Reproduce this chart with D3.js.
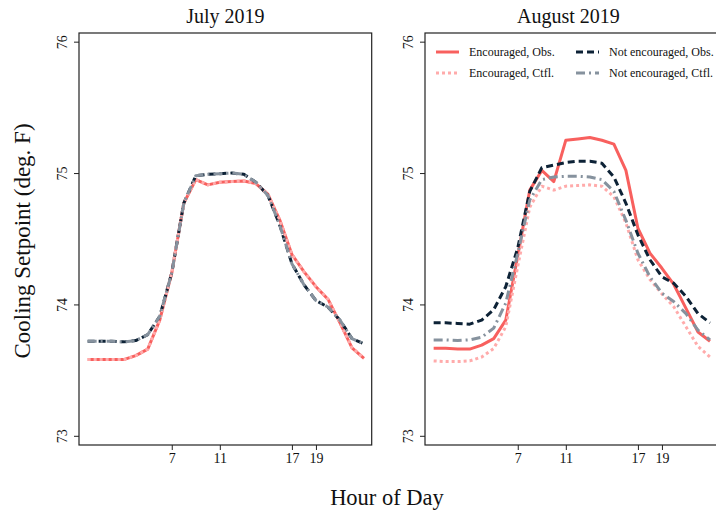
<!DOCTYPE html>
<html><head><meta charset="utf-8">
<script src="https://cdn.jsdelivr.net/npm/d3@7"></script>
<style>body{margin:0;background:#fff}svg{display:block}</style>
</head><body>
<svg id="c" width="716" height="512"></svg>
<script>
const hours = d3.range(0, 24);
const panels = ["July 2019", "August 2019"];
const xTicks = [7, 11, 17, 19];
const yTicks = [73, 74, 75, 76];
const seriesNames = ["Encouraged, Obs.", "Encouraged, Ctfl.", "Not encouraged, Obs.", "Not encouraged, Ctfl."];

const julyEncObs = [73.58,73.58,73.58,73.58,73.61,73.66,73.88,74.24,74.77,74.95,74.91,74.93,74.935,74.94,74.92,74.84,74.64,74.38,74.25,74.135,74.04,73.86,73.67,73.59];
const julyEncCtfl = julyEncObs.slice();
const julyNotObs = [73.72,73.72,73.72,73.715,73.725,73.77,73.91,74.24,74.77,74.98,74.99,74.995,75.0,74.99,74.93,74.83,74.60,74.31,74.15,74.03,73.98,73.88,73.74,73.70];
const julyNotCtfl = julyNotObs.slice();

const augEncObs = [73.666,73.666,73.66,73.66,73.69,73.74,73.88,74.37,74.87,75.02,74.935,75.25,75.26,75.27,75.25,75.22,75.02,74.58,74.39,74.275,74.15,73.97,73.79,73.72];
const augEncCtfl = [73.57,73.565,73.565,73.57,73.60,73.665,73.83,74.29,74.74,74.90,74.87,74.90,74.905,74.91,74.90,74.82,74.62,74.34,74.19,74.08,73.98,73.83,73.68,73.60];
const augNotObs = [73.86,73.86,73.855,73.85,73.88,73.96,74.135,74.43,74.86,75.04,75.06,75.08,75.09,75.09,75.075,74.97,74.77,74.53,74.34,74.21,74.16,74.06,73.93,73.86];
const augNotCtfl = [73.73,73.73,73.725,73.73,73.75,73.82,74.01,74.39,74.795,74.95,74.97,74.975,74.975,74.97,74.95,74.86,74.64,74.39,74.21,74.085,74.02,73.93,73.805,73.73];

// draw order: Enc Obs, Not Obs, Enc Ctfl, Not Ctfl (style index 0,2,1,3)
const panelData = [
  [julyEncObs, julyNotObs, julyEncCtfl, julyNotCtfl],
  [augEncObs, augNotObs, augEncCtfl, augNotCtfl]
];
const order = [0, 2, 1, 3];
const styles = [
  {color:"#f8605e", dash:null, w:3},
  {color:"#ffabab", dash:"3,3", w:3},
  {color:"#0d2236", dash:"7,4", w:3},
  {color:"#86929e", dash:"9,4,2,4", w:3}
];

const svg = d3.select("#c");
const font = "'Liberation Serif', 'DejaVu Serif', serif";
const plotTop = 33, plotBottom = 445;
const lefts = [79, 425];
const pw = 292.7;

const y = d3.scaleLinear().domain([72.93, 76.066]).range([plotBottom, plotTop]);

panels.forEach((title, pi) => {
  const x0 = lefts[pi];
  const x = d3.scaleLinear().domain([-0.72, 23.64]).range([x0, x0 + pw]);
  const g = svg.append("g");

  const line = d3.line().x((d,i) => x(hours[i])).y(d => y(d));
  panelData[pi].forEach((arr, k) => {
    const s = styles[order[k]];
    g.append("path").datum(arr).attr("d", line)
      .attr("fill","none").attr("stroke", s.color).attr("stroke-width", s.w)
      .attr("stroke-dasharray", s.dash).attr("stroke-linejoin","round");
  });

  g.append("rect").attr("x", x0).attr("y", plotTop).attr("width", pw).attr("height", plotBottom - plotTop)
    .attr("fill","none").attr("stroke","#222").attr("stroke-width",1.2);

  const xa = g.append("g").attr("transform", `translate(0,${plotBottom})`)
    .call(d3.axisBottom(x).tickValues(xTicks).tickSize(5).tickPadding(3).tickFormat(d3.format("d")));
  xa.select(".domain").remove();
  xa.selectAll("line").attr("stroke","#222");
  xa.selectAll("text").attr("font-family", font).attr("font-size", 14).attr("fill","#111");

  const ya = g.append("g").attr("transform", `translate(${x0},0)`)
    .call(d3.axisLeft(y).tickValues(yTicks).tickSize(5).tickFormat(d3.format("d")));
  ya.select(".domain").remove();
  ya.selectAll("line").attr("stroke","#222");
  ya.selectAll("text").remove();
  ya.selectAll(".tick").append("text")
    .attr("transform", "translate(-12,0) rotate(-90)")
    .attr("text-anchor","middle").attr("dy", 0)
    .attr("font-family", font).attr("font-size", 14).attr("fill","#111")
    .text(d => d);

  svg.append("text").attr("x", x0 + pw/2 - (pi === 1 ? 3 : 0)).attr("y", 23)
    .attr("text-anchor","middle").attr("font-family", font).attr("font-size", 20)
    .attr("fill","#111").text(title);

  if (pi === 1) {
    const leg = g.append("g");
    const cols = [436, 576];
    const rows = [52, 73];
    const legIdx = [[0, 2], [1, 3]];
    legIdx.forEach((r, ri) => r.forEach((si, ci) => {
      const s = styles[si];
      leg.append("line").attr("x1", cols[ci]).attr("x2", cols[ci] + 23)
        .attr("y1", rows[ri]).attr("y2", rows[ri])
        .attr("stroke", s.color).attr("stroke-width", 3).attr("stroke-dasharray", s.dash);
      leg.append("text").attr("x", cols[ci] + 33).attr("y", rows[ri] + 4)
        .attr("font-family", font).attr("font-size", 12).attr("fill","#111")
        .text(seriesNames[si]);
    }));
  }
});

svg.append("text").attr("x", 387).attr("y", 505).attr("text-anchor","middle")
  .attr("font-family", font).attr("font-size", 22.5).attr("fill","#111").text("Hour of Day");
svg.append("text").attr("transform","translate(30,241) rotate(-90)").attr("text-anchor","middle")
  .attr("font-family", font).attr("font-size", 23).attr("fill","#111").text("Cooling Setpoint (deg. F)");
</script>
</body></html>
